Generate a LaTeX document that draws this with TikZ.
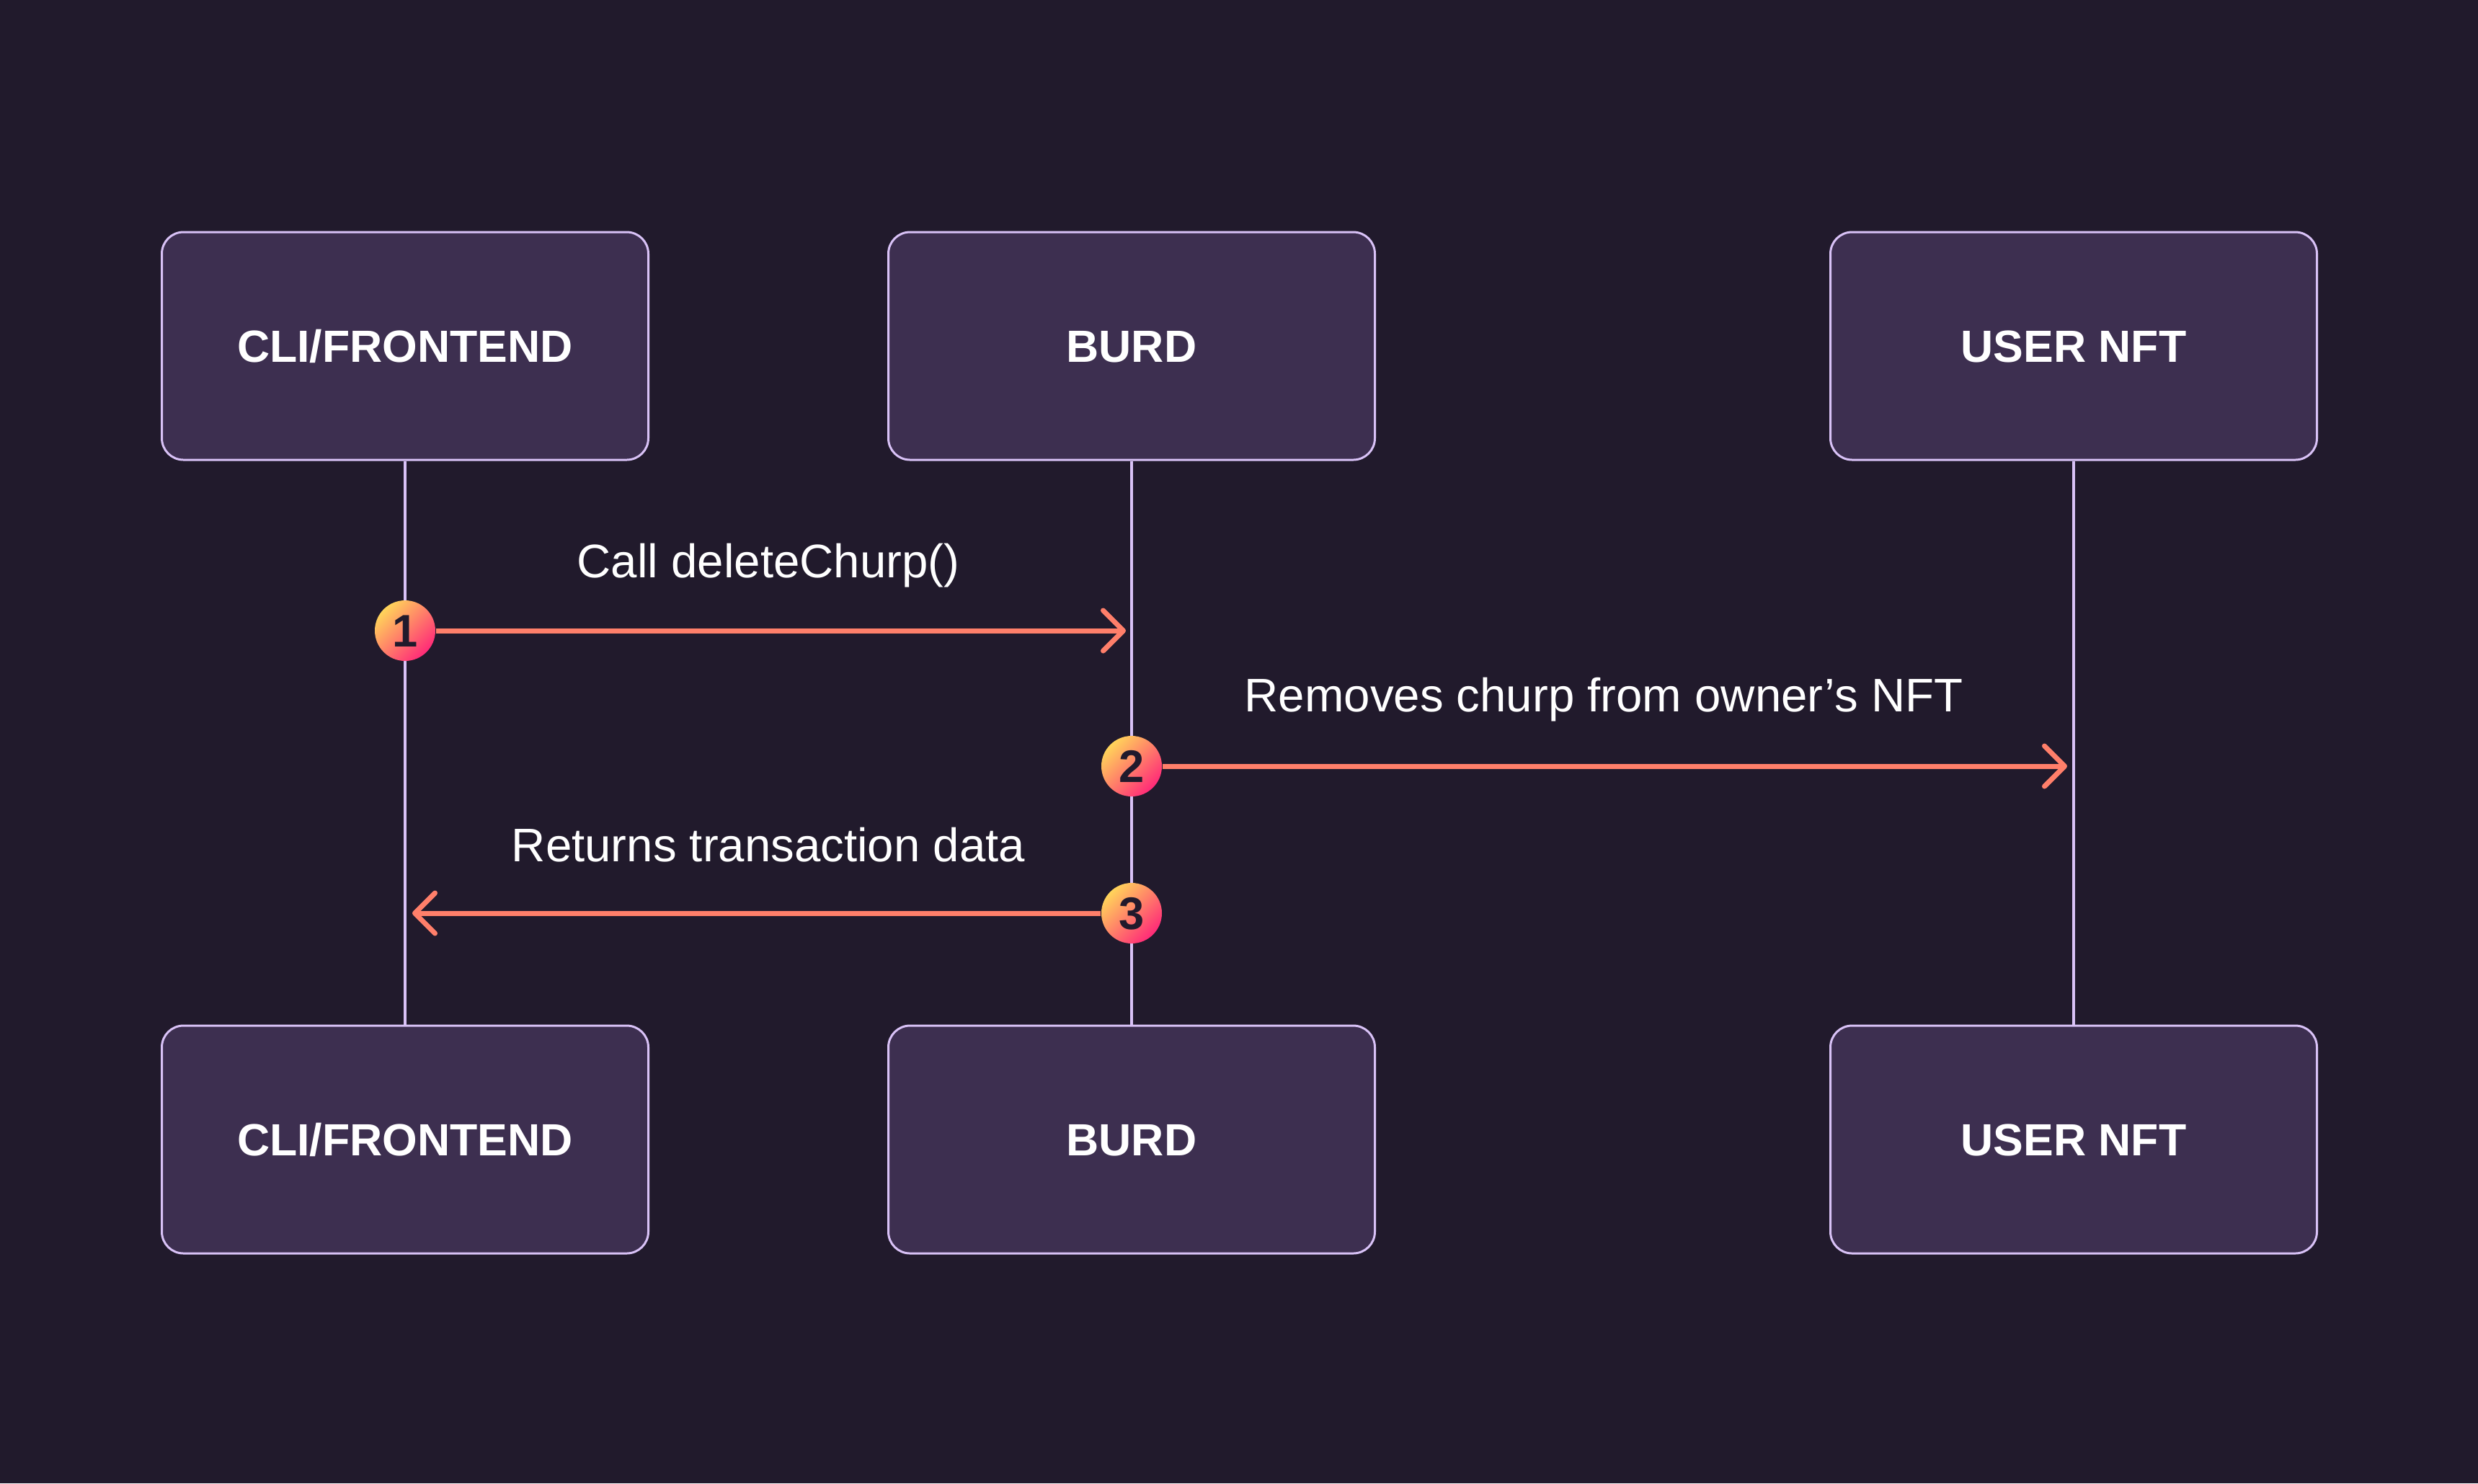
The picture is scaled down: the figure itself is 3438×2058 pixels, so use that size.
\documentclass[tikz,border=0pt]{standalone}
\usepackage{fontspec}
\setmainfont{Liberation Sans}
\usetikzlibrary{arrows.meta}
\definecolor{bgc}{HTML}{211A2C}
\definecolor{boxfill}{HTML}{3D2F50}
\definecolor{boxline}{HTML}{D9C2F7}
\definecolor{arrowc}{HTML}{FF7F6A}
\definecolor{gradA}{HTML}{FFD45A}
\definecolor{gradB}{HTML}{FF2A78}
\tikzset{
  actor/.style={draw=boxline, line width=0.85pt, fill=boxfill, rounded corners=3mm,
    minimum width=67.5mm, minimum height=31.6mm, inner sep=0pt,
    text=white, font=\fontsize{17.8}{22}\selectfont\bfseries,
    text height=12.8pt, text depth=0pt},
  lifeline/.style={draw=boxline, line width=1.15pt},
  badge/.style={circle, minimum size=8.4mm, inner sep=0pt,
    top color=gradA, bottom color=gradB, shading angle=45,
    text=bgc, font=\fontsize{18}{20}\selectfont\bfseries,
    text height=12.9pt, text depth=0pt},
  msg/.style={draw=arrowc, line width=2pt,
    -{Straight Barb[length=2.8mm, width=5.6mm, round]}},
  msglabel/.style={text=white, font=\fontsize{18.6}{22}\selectfont, anchor=base, inner sep=0pt}
}
\begin{document}
\begin{tikzpicture}[x=0.1mm, y=-0.1mm]
\fill[bgc] (0,0) rectangle (3438,2058);
\useasboundingbox (0,0) rectangle (3438,2058);

\node[actor] (cliT) at (562,480) {CLI/FRONTEND};
\node[actor] (burdT) at (1570,480) {BURD};
\node[actor] (nftT) at (2877,480) {USER NFT};
\node[actor] (cliB) at (562,1581) {CLI/FRONTEND};
\node[actor] (burdB) at (1570,1581) {BURD};
\node[actor] (nftB) at (2877,1581) {USER NFT};

\draw[lifeline] (cliT.south) -- (cliB.north);
\draw[lifeline] (burdT.south) -- (burdB.north);
\draw[lifeline] (nftT.south) -- (nftB.north);

\node[badge] (b1) at (562,875) {1};
\node[badge] (b2) at (1570,1063) {2};
\node[badge] (b3) at (1570,1267) {3};

\coordinate (t1) at (1562,875);
\coordinate (t2) at (2868,1063);
\coordinate (t3) at (572,1267);

\draw[msg] (b1.east) -- (t1);
\draw[msg] (b2.east) -- (t2);
\draw[msg] (b3.west) -- (t3);

\node[msglabel] (l1) at (1066,801) {Call deleteChurp()};
\node[msglabel] (l2) at (2225,987) {Removes churp from owner’s NFT};
\node[msglabel] (l3) at (1066,1195) {Returns transaction data};
\end{tikzpicture}
\end{document}
